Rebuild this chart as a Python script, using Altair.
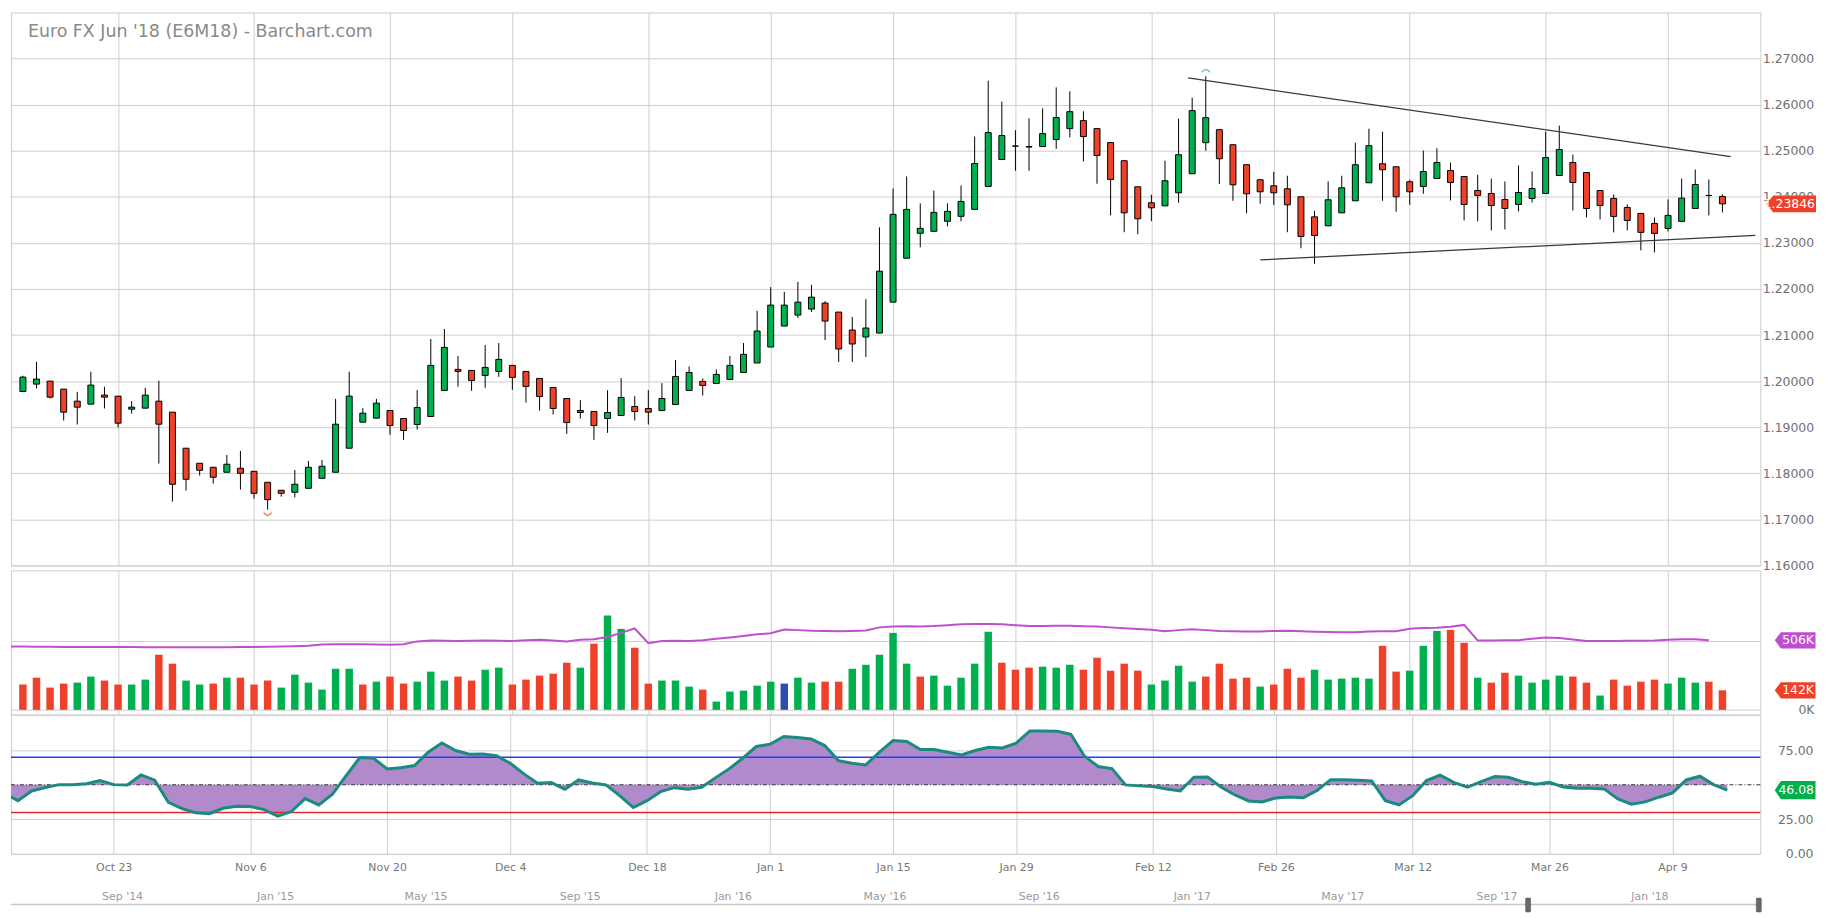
import altair as alt
import pandas as pd

FONT = "DejaVu Sans"
GREEN = "#00b04f"
RED = "#ef4129"
BLUE = "#2b4db5"
PURPLE = "#c04fcf"
TEAL = "#1b8a7f"
FILL = "#b08acb"

# ---------------- data ----------------
opens = [1.19775, 1.19935, 1.2000, 1.19826, 1.19565, 1.195, 1.19696, 1.19674, 1.19391, 1.19413,
         1.19565, 1.19326, 1.18544, 1.18217, 1.1813, 1.18022, 1.18109, 1.18043, 1.17804, 1.17631,
         1.17587, 1.17674, 1.17891, 1.18022, 1.18544, 1.19109, 1.19196, 1.19362, 1.19188, 1.19058,
         1.19232, 1.19797, 1.20254, 1.20232, 1.20123, 1.2021, 1.20341, 1.2021, 1.20058, 1.19862,
         1.19623, 1.19362, 1.19341, 1.19188, 1.19254, 1.19449, 1.19406, 1.19362, 1.19493, 1.19797,
         1.19993, 1.19949, 1.20036, 1.20188, 1.20394, 1.2074, 1.21195, 1.21433, 1.21563, 1.21693,
         1.21498, 1.21108, 1.20957, 1.21043, 1.21714, 1.22667, 1.23208, 1.23251, 1.23468, 1.23576,
         1.23727, 1.24225, 1.2481, 1.2510, 1.2509, 1.2509, 1.25242, 1.2548, 1.25654, 1.2548,
         1.25177, 1.24783, 1.24217, 1.2387, 1.23804, 1.24087, 1.245, 1.25174, 1.25457, 1.2513,
         1.24696, 1.2437, 1.24239, 1.24174, 1.24, 1.23565, 1.2337, 1.23652, 1.23913, 1.24304,
         1.24717, 1.24652, 1.24326, 1.24224, 1.24397, 1.2457, 1.2444, 1.24137, 1.24072, 1.23942,
         1.23834, 1.23964, 1.24072, 1.24462, 1.24744, 1.24527, 1.24137, 1.23964, 1.23769, 1.23639,
         1.23422, 1.23314, 1.23466, 1.23747, 1.24029, 1.24007]
highs = [1.20116, 1.2042, 1.2000, 1.19826, 1.19768, 1.20203, 1.19877, 1.19674, 1.19565, 1.19855,
         1.20007, 1.19326, 1.18544, 1.18217, 1.1813, 1.18399, 1.18486, 1.18043, 1.17804, 1.17631,
         1.18073, 1.18268, 1.1829, 1.19616, 1.20203, 1.19413, 1.19616, 1.19362, 1.19188, 1.19804,
         1.20913, 1.2113, 1.20543, 1.20232, 1.20783, 1.20826, 1.20341, 1.2021, 1.20058, 1.19862,
         1.19623, 1.19587, 1.19341, 1.19804, 1.20065, 1.19674, 1.19804, 1.19957, 1.20457, 1.20319,
         1.20058, 1.20254, 1.20543, 1.20826, 1.21527, 1.22039, 1.21938, 1.22154, 1.22089, 1.21736,
         1.21498, 1.2139, 1.21779, 1.23338, 1.24182, 1.24442, 1.23857, 1.24139, 1.23857, 1.24247,
         1.25307, 1.2652, 1.26065, 1.25444, 1.25704, 1.25921, 1.26375, 1.26289, 1.25856, 1.2548,
         1.25177, 1.24783, 1.24217, 1.24044, 1.24783, 1.25696, 1.26152, 1.26616, 1.25457, 1.2513,
         1.24696, 1.2437, 1.24543, 1.24457, 1.24, 1.23696, 1.24333, 1.24457, 1.25174, 1.25478,
         1.25413, 1.24652, 1.2437, 1.25004, 1.25054, 1.24744, 1.2444, 1.24477, 1.24397, 1.24332,
         1.24679, 1.24549, 1.25415, 1.25545, 1.24917, 1.24527, 1.24137, 1.24051, 1.23834, 1.23639,
         1.23552, 1.23942, 1.24397, 1.24592, 1.24375, 1.24051]
lows = [1.19775, 1.1984, 1.19623, 1.19145, 1.19058, 1.195, 1.19406, 1.18993, 1.19297, 1.19413,
        1.1821, 1.17384, 1.17623, 1.1795, 1.17775, 1.18022, 1.17645, 1.1745, 1.1721, 1.17493,
        1.17478, 1.17674, 1.17891, 1.18022, 1.18544, 1.19109, 1.19196, 1.18833, 1.18725, 1.18949,
        1.19232, 1.19797, 1.19877, 1.1979, 1.19855, 1.20094, 1.19812, 1.19536, 1.19362, 1.19275,
        1.18855, 1.19188, 1.18725, 1.18877, 1.19254, 1.19145, 1.19058, 1.19341, 1.19493, 1.19797,
        1.19688, 1.19949, 1.20036, 1.20188, 1.20394, 1.2074, 1.21195, 1.21368, 1.21498, 1.20892,
        1.20416, 1.20416, 1.20524, 1.21043, 1.21714, 1.22667, 1.22905, 1.23251, 1.23359, 1.23468,
        1.23727, 1.24225, 1.2481, 1.24564, 1.24564, 1.2509, 1.2504, 1.25286, 1.24766, 1.24283,
        1.23597, 1.23232, 1.23189, 1.23471, 1.23804, 1.2387, 1.245, 1.25, 1.24275, 1.23913,
        1.23645, 1.23848, 1.23826, 1.23232, 1.22884, 1.22544, 1.2337, 1.23652, 1.23913, 1.24304,
        1.23913, 1.23674, 1.23826, 1.24065, 1.24397, 1.23921, 1.23487, 1.23466, 1.23271, 1.23292,
        1.23682, 1.23877, 1.24072, 1.24462, 1.23704, 1.23552, 1.23509, 1.23228, 1.23271, 1.22838,
        1.22794, 1.23249, 1.23466, 1.23747, 1.23596, 1.23661]
closes = [1.20087, 1.20044, 1.19652, 1.19326, 1.19435, 1.19913, 1.19652, 1.19087, 1.19435, 1.19696,
          1.19065, 1.17761, 1.1787, 1.18065, 1.17913, 1.18196, 1.18, 1.17565, 1.17428, 1.17565,
          1.17761, 1.1813, 1.18152, 1.19065, 1.19674, 1.19304, 1.19522, 1.19036, 1.18928, 1.19428,
          1.20341, 1.20732, 1.2021, 1.20014, 1.20297, 1.20471, 1.2008, 1.19884, 1.19667, 1.19406,
          1.19101, 1.19319, 1.19036, 1.19319, 1.19645, 1.19341, 1.19325, 1.19623, 1.20101, 1.20188,
          1.19906, 1.20145, 1.20341, 1.2058, 1.21087, 1.21649, 1.21649, 1.21714, 1.21822, 1.21303,
          1.20697, 1.20805, 1.21152, 1.22385, 1.23619, 1.23727, 1.23316, 1.23662, 1.23684, 1.239,
          1.24723, 1.25394, 1.25329, 1.2510, 1.2508, 1.25372, 1.25719, 1.25848, 1.25307, 1.24896,
          1.24377, 1.23652, 1.23522, 1.23761, 1.24348, 1.24913, 1.2587, 1.25717, 1.24826, 1.24261,
          1.24065, 1.24109, 1.24087, 1.23826, 1.2314, 1.2316, 1.23935, 1.24196, 1.24696, 1.25109,
          1.24587, 1.24, 1.24109, 1.24549, 1.24744, 1.24311, 1.23834, 1.24029, 1.23812, 1.23747,
          1.24094, 1.24181, 1.24852, 1.25025, 1.24311, 1.23747, 1.23812, 1.23574, 1.23487, 1.23228,
          1.23206, 1.23596, 1.23971, 1.24267, 1.24029, 1.23846]
prev_close = 1.2015

volumes_k = [184, 234, 162, 191, 198, 242, 213, 184, 184, 220,
             401, 336, 213, 184, 191, 234, 234, 184, 213, 162,
             256, 198, 147, 299, 299, 184, 205, 242, 191, 205,
             278, 213, 242, 213, 292, 307, 184, 220, 249, 263,
             343, 307, 481, 686, 589, 452, 191, 213, 213, 169,
             147, 60, 133, 140, 176, 205, 191, 234, 198, 205,
             205, 299, 328, 401, 560, 336, 242, 249, 176, 234,
             336, 568, 343, 292, 307, 314, 307, 328, 292, 379,
             285, 336, 285, 184, 213, 321, 205, 242, 336, 227,
             234, 169, 184, 299, 234, 292, 220, 227, 234, 227,
             466, 278, 285, 466, 575, 582, 488, 234, 198, 270,
             249, 198, 220, 249, 242, 198, 104, 220, 176, 205,
             220, 191, 234, 198, 205, 142]

oi_lead = 461
open_interest_k = [460, 459, 459, 458, 458, 458, 457, 457, 457, 456, 456, 456, 456, 456, 456, 456,
                   457, 458, 459, 460, 462,
                   466, 475, 477, 477, 478, 476, 474, 478, 498, 505,
                   503, 500, 503, 505, 502, 500, 507, 510, 505, 498,
                   510, 514, 530, 560, 592, 485, 500, 503, 500, 506,
                   517, 527, 538, 550, 557, 585, 580, 575, 573, 572,
                   574, 578, 600, 606, 608, 607, 610, 616, 622, 625,
                   624, 623, 616, 610, 610, 611, 611, 608, 606, 600,
                   594, 588, 582, 572, 580, 587, 580, 574, 571, 570,
                   570, 574, 576, 572, 568, 566, 565, 565, 570, 572,
                   572, 590, 595, 597, 604, 618, 505, 505, 506, 507,
                   518, 526, 522, 512, 501, 500, 501, 502, 503, 505,
                   510, 514, 513, 506]

rsi_lead = 43.8
rsi_values = [38.5, 45.5, 47.9, 50.1, 50.1, 50.8, 53.0, 50.1, 49.9, 57.1,
              53.3, 37.3, 32.7, 29.8, 29.1, 33.0, 34.4, 34.2, 32.0, 27.2,
              30.6, 40.0, 35.4, 43.1, 56.6, 69.7, 69.2, 61.5, 62.4, 63.9,
              73.6, 80.3, 74.8, 72.1, 72.3, 71.1, 65.6, 57.9, 51.1, 51.6,
              46.7, 53.5, 51.3, 49.9, 42.1, 33.5, 38.5, 45.0, 47.9, 46.7,
              48.2, 55.0, 61.5, 69.2, 77.7, 79.3, 84.9, 84.2, 83.2, 78.4,
              67.5, 65.6, 64.4, 73.6, 82.0, 81.3, 75.5, 75.5, 73.6, 71.6,
              74.8, 77.2, 76.7, 80.1, 89.0, 89.0, 88.8, 86.6, 70.7, 63.2,
              61.7, 49.9, 49.2, 48.7, 47.0, 45.5, 55.4, 55.7, 48.2, 42.6,
              38.3, 37.6, 40.5, 41.2, 40.7, 45.8, 53.7, 53.7, 53.3, 52.8,
              38.5, 35.4, 42.1, 53.0, 56.9, 51.8, 48.2, 52.3, 55.9, 55.4,
              52.3, 50.4, 51.8, 48.4, 47.5, 47.5, 47.0, 39.7, 35.9, 37.6,
              41.0, 44.1, 53.5, 56.2, 50.1, 46.08]

grid_idx = [7, 17, 27, 36, 46, 55, 64, 73, 83, 92, 102, 112, 121]
grid_labels = ["Oct 23", "Nov 6", "Nov 20", "Dec 4", "Dec 18", "Jan 1", "Jan 15",
               "Jan 29", "Feb 12", "Feb 26", "Mar 12", "Mar 26", "Apr 9"]
price_ticks = [1.16, 1.17, 1.18, 1.19, 1.20, 1.21, 1.22, 1.23, 1.24, 1.25, 1.26, 1.27]

nav_dates = ["2014-09-01", "2015-01-01", "2015-05-01", "2015-09-01", "2016-01-01", "2016-05-01",
             "2016-09-01", "2017-01-01", "2017-05-01", "2017-09-01", "2018-01-01"]
nav_labels = ["Sep '14", "Jan '15", "May '15", "Sep '15", "Jan '16", "May '16",
              "Sep '16", "Jan '17", "May '17", "Sep '17", "Jan '18"]

trend_id = ["upper", "upper", "lower", "lower"]
trend_idx = [85.7, 125.6, 91.0, 127.42]
trend_price = [1.2658, 1.24874, 1.22631, 1.23163]

title_text = "Euro FX Jun '18 (E6M18) - Barchart.com"

# ---------------- frames ----------------
n = len(closes)
idx = list(range(n))
body_color = [GREEN if c > o else (RED if c < o else "black") for o, c in zip(opens, closes)]
vol_color = []
pc = prev_close
for c in closes:
    vol_color.append(GREEN if c > pc else (RED if c < pc else BLUE))
    pc = c

candles = pd.DataFrame({"idx": idx, "open": opens, "high": highs, "low": lows,
                        "close": closes, "bc": body_color, "vol": volumes_k, "vc": vol_color})
oi_df = pd.DataFrame({"idx": [-1] + list(range(len(open_interest_k))),
                      "oi": [oi_lead] + open_interest_k})
rsi_df = pd.DataFrame({"idx": [-1] + idx, "rsi": [rsi_lead] + rsi_values})
rsi_df["mid"] = 50
trend_df = pd.DataFrame({"line": trend_id, "idx": trend_idx, "price": trend_price})
nav_df = pd.DataFrame({"d": nav_dates, "t": nav_labels})

XDOM = [-0.51, 127.42]
W = 1759
PH, VH, RH = 556, 145, 140
PDOM = [1.16, 1.28]
VDOM = [-34.7, 1014.5]
RDOM = [0, 100.8]

xs = alt.Scale(domain=XDOM, nice=False, zero=False)
ps = alt.Scale(domain=PDOM, nice=False, zero=False)
vs = alt.Scale(domain=VDOM, nice=False, zero=False)
rs = alt.Scale(domain=RDOM, nice=False, zero=False)

grid_axis = alt.Axis(values=grid_idx, grid=True, labels=False, ticks=False, domain=False, title=None)

FLAG_P = "M-1,0 L-0.72,-0.34 L1,-0.34 L1,0.34 L-0.72,0.34 Z"
FLAG_V = "M-1,0 L-0.7,-0.4 L1,-0.4 L1,0.4 L-0.7,0.4 Z"
FLAG_R = "M-1,0 L-0.7,-0.45 L1,-0.45 L1,0.45 L-0.7,0.45 Z"

# ---------------- price panel ----------------
wicks = alt.Chart(candles).mark_rule(color="black", strokeWidth=1).encode(
    x=alt.X("idx:Q", scale=xs, axis=grid_axis),
    y=alt.Y("low:Q", scale=ps, axis=alt.Axis(orient="right", values=price_ticks, format=".5f",
                                             grid=True, ticks=False, domain=False, title=None,
                                             labelAlign="left", labelPadding=2,
                                             labelFontSize=12.5, labelBaseline="middle")),
    y2="high:Q",
)
bodies = alt.Chart(candles).mark_bar(size=6, stroke="black", strokeWidth=1).encode(
    x=alt.X("idx:Q", scale=xs, axis=None),
    y=alt.Y("open:Q", scale=ps, axis=None),
    y2="close:Q",
    fill=alt.Color("bc:N", scale=None),
)
trend = alt.Chart(trend_df).mark_line(color="#3a3a3a", strokeWidth=1.3, clip=True).encode(
    x=alt.X("idx:Q", scale=xs, axis=None),
    y=alt.Y("price:Q", scale=ps, axis=None),
    detail="line:N",
)
hi_i = max(range(n), key=lambda i: highs[i])
lo_i = min(range(n), key=lambda i: lows[i])
hi_mark = alt.Chart(pd.DataFrame({"idx": [hi_i], "p": [highs[hi_i]]})).mark_point(
    shape="M-1,0.5 Q0,-0.9 1,0.5", filled=False, color="#2fbf6f", strokeWidth=1.5,
    size=64, yOffset=-6).encode(
    x=alt.X("idx:Q", scale=xs, axis=None), y=alt.Y("p:Q", scale=ps, axis=None))
lo_mark = alt.Chart(pd.DataFrame({"idx": [lo_i], "p": [lows[lo_i]]})).mark_point(
    shape="M-1,-0.5 Q0,0.9 1,-0.5", filled=False, color=RED, strokeWidth=1.5,
    size=64, yOffset=5).encode(
    x=alt.X("idx:Q", scale=xs, axis=None), y=alt.Y("p:Q", scale=ps, axis=None))
title = alt.Chart(pd.DataFrame({"t": [title_text]})).mark_text(
    align="left", baseline="middle", font=FONT, fontSize=17.5, color="#8a8a8a").encode(
    x=alt.value(17), y=alt.value(20), text="t:N")
last_df = pd.DataFrame({"p": [closes[-1]], "t": [f"{closes[-1]:.5f}"]})
pflag = alt.Chart(last_df).mark_point(shape=FLAG_P, filled=True, color=RED, size=2500,
                                      opacity=1).encode(
    x=alt.value(1790), y=alt.Y("p:Q", scale=ps, axis=None))
pflag_t = alt.Chart(last_df).mark_text(align="right", baseline="middle", font=FONT,
                                       fontSize=12.5, color="white").encode(
    x=alt.value(1814), y=alt.Y("p:Q", scale=ps, axis=None), text="t:N")

price = alt.layer(wicks, bodies, trend, hi_mark, lo_mark, title, pflag, pflag_t).resolve_axis(
    x="independent", y="independent").properties(width=W, height=PH)

# ---------------- volume panel ----------------
vbars = alt.Chart(candles).mark_bar(size=7.5).encode(
    x=alt.X("idx:Q", scale=xs, axis=grid_axis),
    y=alt.Y("vol:Q", scale=vs, axis=alt.Axis(orient="right", values=[0, 500], grid=True,
                                             ticks=False, domain=False, title=None,
                                             labelExpr="datum.value == 0 ? '0K' : ''",
                                             labelAlign="right", labelPadding=54,
                                             labelFontSize=12.5, labelBaseline="middle")),
    y2=alt.Y2(datum=0),
    color=alt.Color("vc:N", scale=None),
)
oi_line = alt.Chart(oi_df).mark_line(color=PURPLE, strokeWidth=2, clip=True).encode(
    x=alt.X("idx:Q", scale=xs, axis=None),
    y=alt.Y("oi:Q", scale=vs, axis=None),
)
vflag_df = pd.DataFrame({"v": [open_interest_k[-1], volumes_k[-1]],
                         "t": [f"{open_interest_k[-1]}K", f"{volumes_k[-1]}K"],
                         "c": [PURPLE, RED]})
vflag = alt.Chart(vflag_df).mark_point(shape=FLAG_V, filled=True, size=1681, opacity=1).encode(
    x=alt.value(1794), y=alt.Y("v:Q", scale=vs, axis=None), color=alt.Color("c:N", scale=None))
vflag_t = alt.Chart(vflag_df).mark_text(align="right", baseline="middle", font=FONT,
                                        fontSize=12.5, color="white").encode(
    x=alt.value(1813), y=alt.Y("v:Q", scale=vs, axis=None), text="t:N")

vol = alt.layer(vbars, oi_line, vflag, vflag_t).resolve_axis(
    x="independent", y="independent").properties(width=W, height=VH)

# ---------------- RSI panel ----------------
label_expr = " : ".join(f"datum.value == {v} ? '{l}'" for v, l in zip(grid_idx, grid_labels)) + " : ''"
rarea = alt.Chart(rsi_df).mark_area(color=FILL, opacity=1, clip=True).encode(
    x=alt.X("idx:Q", scale=xs, axis=alt.Axis(values=grid_idx, grid=True, ticks=False, domain=False,
                                             title=None, labelExpr=label_expr, labelFontSize=11,
                                             labelPadding=8, labelColor="#777")),
    y=alt.Y("rsi:Q", scale=rs, axis=alt.Axis(orient="right", values=[0, 25, 75], grid=True,
                                             ticks=False, domain=False, title=None, format=".2f",
                                             labelAlign="right", labelPadding=53,
                                             labelFontSize=12.5, labelBaseline="middle")),
    y2="mid:Q",
)
ref_df = pd.DataFrame({"v": [70, 30], "c": ["#1f3cff", "#e8262a"]})
refs = alt.Chart(ref_df).mark_rule(strokeWidth=1.5).encode(
    y=alt.Y("v:Q", scale=rs, axis=None), color=alt.Color("c:N", scale=None))
mid_rule = alt.Chart(pd.DataFrame({"v": [50]})).mark_rule(
    color="#333", strokeWidth=1, strokeDash=[4, 2, 1, 2]).encode(
    y=alt.Y("v:Q", scale=rs, axis=None))
rline = alt.Chart(rsi_df).mark_line(color=TEAL, strokeWidth=3, clip=True).encode(
    x=alt.X("idx:Q", scale=xs, axis=None),
    y=alt.Y("rsi:Q", scale=rs, axis=None),
)
rflag_df = pd.DataFrame({"v": [rsi_values[-1]], "t": [f"{rsi_values[-1]:.2f}"]})
rflag = alt.Chart(rflag_df).mark_point(shape=FLAG_R, filled=True, color=GREEN, size=1681,
                                       opacity=1).encode(
    x=alt.value(1794), y=alt.Y("v:Q", scale=rs, axis=None))
rflag_t = alt.Chart(rflag_df).mark_text(align="right", baseline="middle", font=FONT,
                                        fontSize=12.5, color="white").encode(
    x=alt.value(1813), y=alt.Y("v:Q", scale=rs, axis=None), text="t:N")
nav_text = alt.Chart(nav_df).mark_text(baseline="middle", font=FONT, fontSize=11,
                                       color="#9a9a9a").encode(
    x=alt.X("d:T", scale=alt.Scale(domain=[alt.DateTime(year=2014, month=6, date=4),
                                           alt.DateTime(year=2018, month=3, date=30)]),
            axis=None),
    y=alt.value(183), text="t:N")
nav_line = alt.Chart(pd.DataFrame({"a": [0]})).mark_rule(color="#c8c8c8", strokeWidth=1.5).encode(
    x=alt.value(0), x2=alt.value(W), y=alt.value(191))
handles = alt.Chart(pd.DataFrame({"a": [0]})).mark_rect(
    color="#6a6a6a", stroke="#444", strokeWidth=0.5, cornerRadius=1).encode(
    x=alt.value(1523), x2=alt.value(1528), y=alt.value(184.5), y2=alt.value(198.5))
handles2 = alt.Chart(pd.DataFrame({"a": [0]})).mark_rect(
    color="#6a6a6a", stroke="#444", strokeWidth=0.5, cornerRadius=1).encode(
    x=alt.value(1755), x2=alt.value(1760), y=alt.value(184.5), y2=alt.value(198.5))

rsi = alt.layer(rarea, refs, mid_rule, rline, rflag, rflag_t, nav_text, nav_line,
                handles, handles2).resolve_scale(x="independent").resolve_axis(
    x="independent", y="independent").properties(width=W, height=RH)

lower = alt.vconcat(vol, rsi, spacing=0, bounds="flush").resolve_scale(x="independent", y="independent")
chart = alt.vconcat(price, lower, spacing=5, bounds="flush").resolve_scale(
    x="independent", y="independent"
).properties(
    padding={"left": 1, "top": 1, "right": 0, "bottom": 0}
).configure_view(
    stroke="#cccccc", strokeWidth=1
).configure_axis(
    labelFont=FONT, labelColor="#707070", gridColor="#cfcfcf", gridWidth=1
)

chart.save("out.html", embed_options={"renderer": "svg", "actions": False})
